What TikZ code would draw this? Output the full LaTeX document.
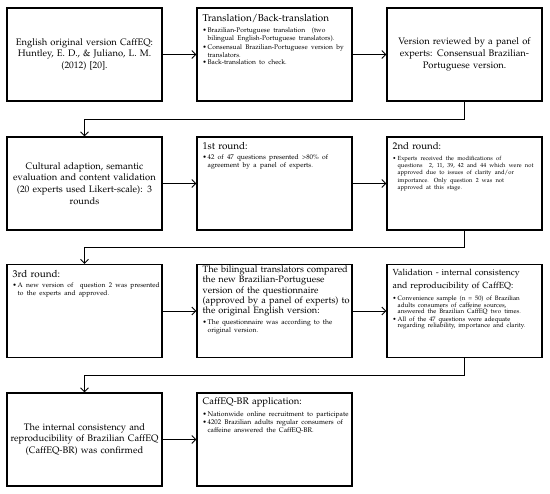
\documentclass[tikz,border=0pt]{standalone}
\usepackage[T1]{fontenc}
\usepackage{mathpazo}
\usepackage{tikz}
\usetikzlibrary{arrows.meta}

\newcommand{\fsz}[2]{\fontsize{#1}{#2}\selectfont}
\newcommand{\bpoint}[1]{\par\hangindent=5pt\hangafter=1\noindent\hyphenpenalty=10000\makebox[5pt][l]{\textbullet}#1\par}

\begin{document}
\begin{tikzpicture}[x=1pt, y=-1pt,
	box/.style={draw, line width=1.1pt, minimum width=155pt, minimum height=93pt, inner sep=0pt},
	maintext/.style={font=\fsz{9.4}{11.6}, align=center, text width=150pt},
	boxtext/.style={anchor=north west, inner sep=0pt, text width=152pt, align=left, font=\fsz{9.9}{11}},
	arr/.style={-{Straight Barb[length=4pt, width=8pt]}, line width=0.9pt}]
	\useasboundingbox (0,0) rectangle (550,494);
	% row 1
	\node[box, maintext] (orig) at (84.5,54.5) {English original version CaffEQ:\\ Huntley, E. D., \& Juliano, L. M.\\ (2012) [20].};
	\node[box] (trans) at (274.5,54.5) {};
	\node[boxtext] (transtxt) at ([xshift=6pt, yshift=-7pt]trans.north west) {Translation/Back-translation\par\vspace{3.5pt}
		{\fsz{6.7}{6.1}\parskip=1.3pt
		\bpoint{Brazilian-Portuguese translation~ (two\newline bilingual English-Portuguese translators).}
		\bpoint{Consensual Brazilian-Portuguese version by\newline translators.}
		\bpoint{Back-translation to check.}}};
	\node[box, maintext] (review) at (464.5,54.5) {Version reviewed by a panel of\\ experts: Consensual Brazilian-\\ Portuguese version.};
	% row 2
	\node[box, maintext] (cult) at (84.5,183.5) {Cultural adaption, semantic\\ evaluation and content validation\\ (20 experts used Likert-scale): 3\\ rounds};
	\node[box] (first) at (274.5,183.5) {};
	\node[boxtext] (firsttxt) at ([xshift=6pt, yshift=-6pt]first.north west) {1st round:\par\vspace{3pt}
		{\fsz{6.8}{6.6}\bpoint{42 of 47 questions presented >80\% of\newline agreement by a panel of experts.}}};
	\node[box] (second) at (464.5,183.5) {};
	\node[boxtext, font=\fsz{9.7}{11}] (secondtxt) at ([xshift=6pt, yshift=-6pt]second.north west) {2nd round:\par\vspace{3pt}
		{\fsz{5.9}{7.4}\bpoint{Experts received the modifications of\newline questions~ 2, 11, 39, 42 and 44 which were not\newline approved due to issues of clarity and/or\newline importance. Only question 2 was not\newline approved at this stage.}}};
	% row 3
	\node[box] (third) at (84.5,311) {};
	\node[boxtext] (thirdtxt) at ([xshift=6pt, yshift=-6pt]third.north west) {3rd round:\par\vspace{4pt}
		{\fsz{6.7}{6.2}\bpoint{A new version of~ question 2 was presented\newline to the experts and approved.}}};
	\node[box] (compare) at (274.5,311) {};
	\node[boxtext, font=\fsz{9.2}{10.4}] (comparetxt) at ([xshift=6pt, yshift=-1.5pt]compare.north west) {The bilingual translators compared\\ the new Brazilian-Portuguese\\ version of the questionnaire\\ (approved by a panel of experts) to\\ the original English version:\par\vspace{2pt}
		{\fsz{6.8}{6.1}\bpoint{The questionnaire was according to the\newline original version.}}};
	\node[box] (valid) at (464.5,311) {};
	\node[boxtext, font=\fsz{8.8}{12.5}] (validtxt) at ([xshift=6pt, yshift=-5pt]valid.north west) {Validation - internal consistency\\ and reproducibility of CaffEQ:\par\vspace{3.5pt}
		{\fsz{6.3}{6.6}\parskip=1pt
		\bpoint{Convenience sample (n = 50) of Brazilian\newline adults consumers of caffeine sources,\newline answered the Brazilian CaffEQ two times.}
		\bpoint{All of the 47 questions were adequate\newline regarding reliability, importance and clarity.}}};
	% row 4
	\node[box, maintext] (confirm) at (84.5,439.5) {The internal consistency and\\ reproducibility of Brazilian CaffEQ\\ (CaffEQ-BR) was confirmed};
	\node[box] (appl) at (274.5,439.5) {};
	\node[boxtext, font=\fsz{9.5}{11}] (appltxt) at ([xshift=6pt, yshift=-5pt]appl.north west) {CaffEQ-BR application:\par\vspace{3pt}
		{\fsz{6.8}{6.4}\parskip=0.5pt
		\bpoint{Nationwide online recruitment to participate}
		\bpoint{4202 Brazilian adults regular consumers of\newline caffeine answered the CaffEQ-BR.}}};
	% connectors
	\draw[arr] (orig) -- (trans);
	\draw[arr] (trans) -- (review);
	\draw[arr] (review.south) -- ++(0,17.5) -| (cult.north);
	\draw[arr] (cult) -- (first);
	\draw[arr] (first) -- (second);
	\draw[arr] (second.south) -- ++(0,17) -| (third.north);
	\draw[arr] (third) -- (compare);
	\draw[arr] (compare) -- (valid);
	\draw[arr] (valid.south) -- ++(0,17.5) -| (confirm.north);
	\draw[arr] (confirm) -- (appl);
\end{tikzpicture}
\end{document}
